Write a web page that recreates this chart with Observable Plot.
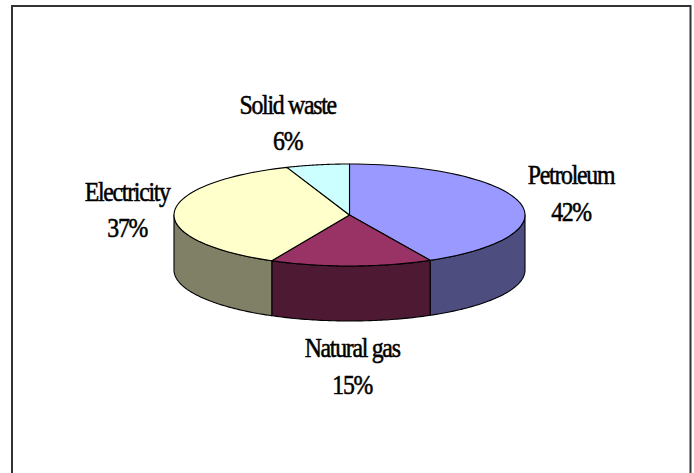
<!DOCTYPE html>
<html><head><meta charset="utf-8">
<style>html,body{margin:0;padding:0;background:#fff}svg{display:block}</style>
<script src="https://cdn.jsdelivr.net/npm/d3@7"></script>
<script src="https://cdn.jsdelivr.net/npm/@observablehq/plot@0.6"></script>
</head><body><script>
const categories = ["Petroleum", "Natural gas", "Electricity", "Solid waste"];
const shares = [42.4, 14.9, 36.9, 5.8];
const topColors = ["#9999FF", "#993366", "#FFFFCC", "#CCFFFF"];
const sideColors = ["#4D4D80", "#4D1933", "#808066", "#668080"];
const labelNudge = [[51, -12], [1, 98], [-47, -5], [-30, -44]];

const tilt = 51 / 175.5, depth = 55 / 175.5;
const tau = 2 * Math.PI;
const total = d3.sum(shares);
let acc = 0;
const slices = categories.map((name, i) => {
  const a0 = acc / total * tau; acc += shares[i];
  return {name, i, a0, a1: acc / total * tau, value: shares[i]};
});
const px = a => Math.sin(a), py = (a, d = 0) => Math.cos(a) * tilt - d;
const arc = (a0, a1) => d3.range(0, 61).map(k => a0 + (a1 - a0) * k / 60);

const topPts = slices.flatMap(s => [
  {id: s.name, fill: topColors[s.i], x: 0, y: 0},
  ...arc(s.a0, s.a1).map(a => ({id: s.name, fill: topColors[s.i], x: px(a), y: py(a)}))
]);
const sidePts = slices.flatMap(s => {
  const a0 = Math.max(s.a0, Math.PI / 2), a1 = Math.min(s.a1, 3 * Math.PI / 2);
  if (a1 <= a0) return [];
  const r = arc(a0, a1);
  return [...r.map(a => ({id: s.name, fill: sideColors[s.i], x: px(a), y: py(a)})),
          ...r.slice().reverse().map(a => ({id: s.name, fill: sideColors[s.i], x: px(a), y: py(a, depth)}))];
});

const sc = 175.5;
const chart = Plot.plot({
  width: 694, height: 473,
  margin: 0,
  style: {background: "#fff"},
  x: {domain: [(0 - 349) / sc, (694 - 349) / sc], range: [0, 694], axis: null},
  y: {domain: [(214.5 - 473) / sc, 214.5 / sc], range: [473, 0], axis: null},
  marks: [
    Plot.rect([0], {x1: () => (12 - 349) / sc, x2: () => (690.5 - 349) / sc,
      y1: () => (214.5 - 6) / sc, y2: () => (214.5 - 490) / sc,
      fill: "none", stroke: "#333", strokeWidth: 2}),
    Plot.line(sidePts, {x: "x", y: "y", z: "id", fill: "fill", stroke: "#000", strokeWidth: 1.1, curve: "linear-closed"}),
    Plot.line(topPts, {x: "x", y: "y", z: "id", fill: "fill", stroke: "#000", strokeWidth: 1.1, curve: "linear-closed"}),
    ...slices.map(s => {
      const mid = (s.a0 + s.a1) / 2;
      return Plot.text([s], {
        x: () => px(mid), y: () => py(mid),
        dx: labelNudge[s.i][0], dy: labelNudge[s.i][1],
        text: d => `${d.name}\n${Math.round(d.value)}%`,
        fontFamily: "Liberation Serif", fontSize: 28, lineHeight: 1.29,
        fill: "#000", stroke: "#000", strokeWidth: 0.55,
        textAnchor: "middle"
      });
    })
  ]
});
chart.querySelectorAll("text").forEach(t => {
  t.style.letterSpacing = "-1.5px";
  t.setAttribute("transform", (t.getAttribute("transform") || "") + " scale(0.85,1)");
});
document.body.appendChild(chart);
</script></body></html>
